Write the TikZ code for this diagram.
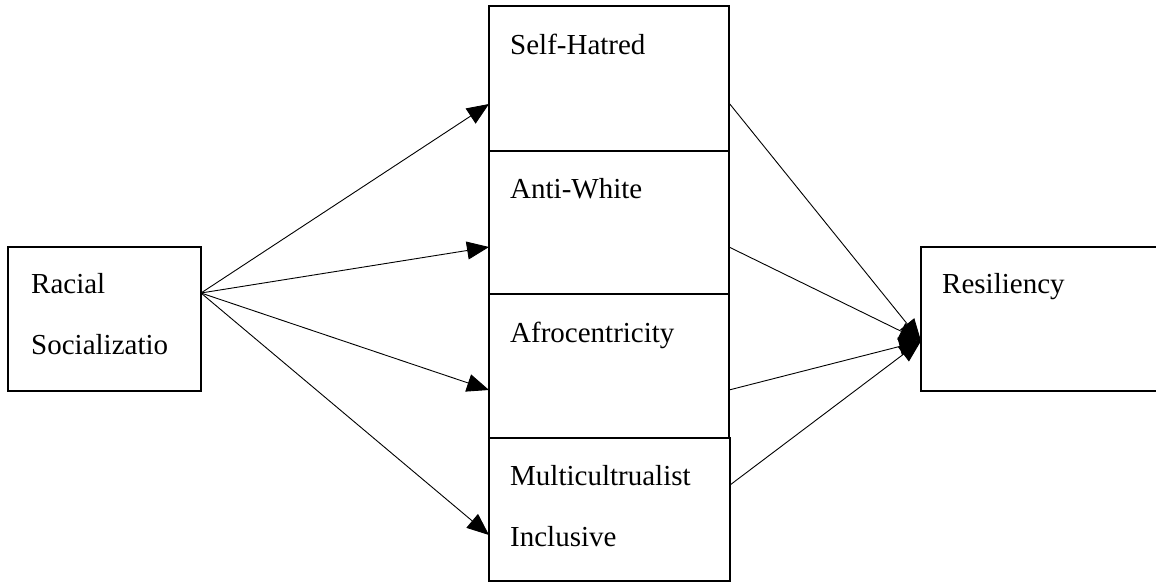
\documentclass[tikz,border=0pt]{standalone}
\usepackage{fontspec}
\setmainfont{Liberation Serif}
\usetikzlibrary{arrows.meta}
\begin{document}
\begin{tikzpicture}[x=1pt,y=-1pt,
  boxline/.style={draw=black,line width=1.5pt},
  lbl/.style={anchor=base west,inner sep=0pt,font=\fontsize{29}{34}\selectfont},
  conn/.style={draw=black,line width=0.9pt,-{Triangle[length=22pt,width=18pt]}}]
\useasboundingbox (0,0) rectangle (1156,582);
% boxes
\draw[boxline] (8,247) rectangle (201,391);
\draw[boxline] (489,6) rectangle (729,151);
\draw[boxline] (489,151) rectangle (729,294);
\draw[boxline] (489,294) rectangle (729,438);
\draw[boxline] (489,438) rectangle (730,581);
\draw[boxline] (921,247) rectangle (1170,391);
% labels
\node[lbl] (racial) at (31,293) {Racial};
\node[lbl] (soc) at (31,354) {Socializatio};
\node[lbl] (sh) at (510,54) {Self-Hatred};
\node[lbl] (aw) at (510,198) {Anti-White};
\node[lbl] (af) at (510,342) {Afrocentricity};
\node[lbl] (mc) at (510,485) {Multicultrualist};
\node[lbl] (inc) at (510,546) {Inclusive};
\node[lbl] (res) at (942,293) {Resiliency};
% connector coordinates
\coordinate (src) at (201,293);
\coordinate (in1) at (489,104);
\coordinate (in2) at (489,247);
\coordinate (in3) at (489,390);
\coordinate (in4) at (489,535);
\coordinate (out1) at (729,103);
\coordinate (out2) at (729,247);
\coordinate (out3) at (729,390);
\coordinate (out4) at (730,485);
\coordinate (dst) at (921,341);
% connectors
\draw[conn] (src) -- (in1);
\draw[conn] (src) -- (in2);
\draw[conn] (src) -- (in3);
\draw[conn] (src) -- (in4);
\draw[conn] (out1) -- (dst);
\draw[conn] (out2) -- (dst);
\draw[conn] (out3) -- (dst);
\draw[conn] (out4) -- (dst);
\end{tikzpicture}
\end{document}
